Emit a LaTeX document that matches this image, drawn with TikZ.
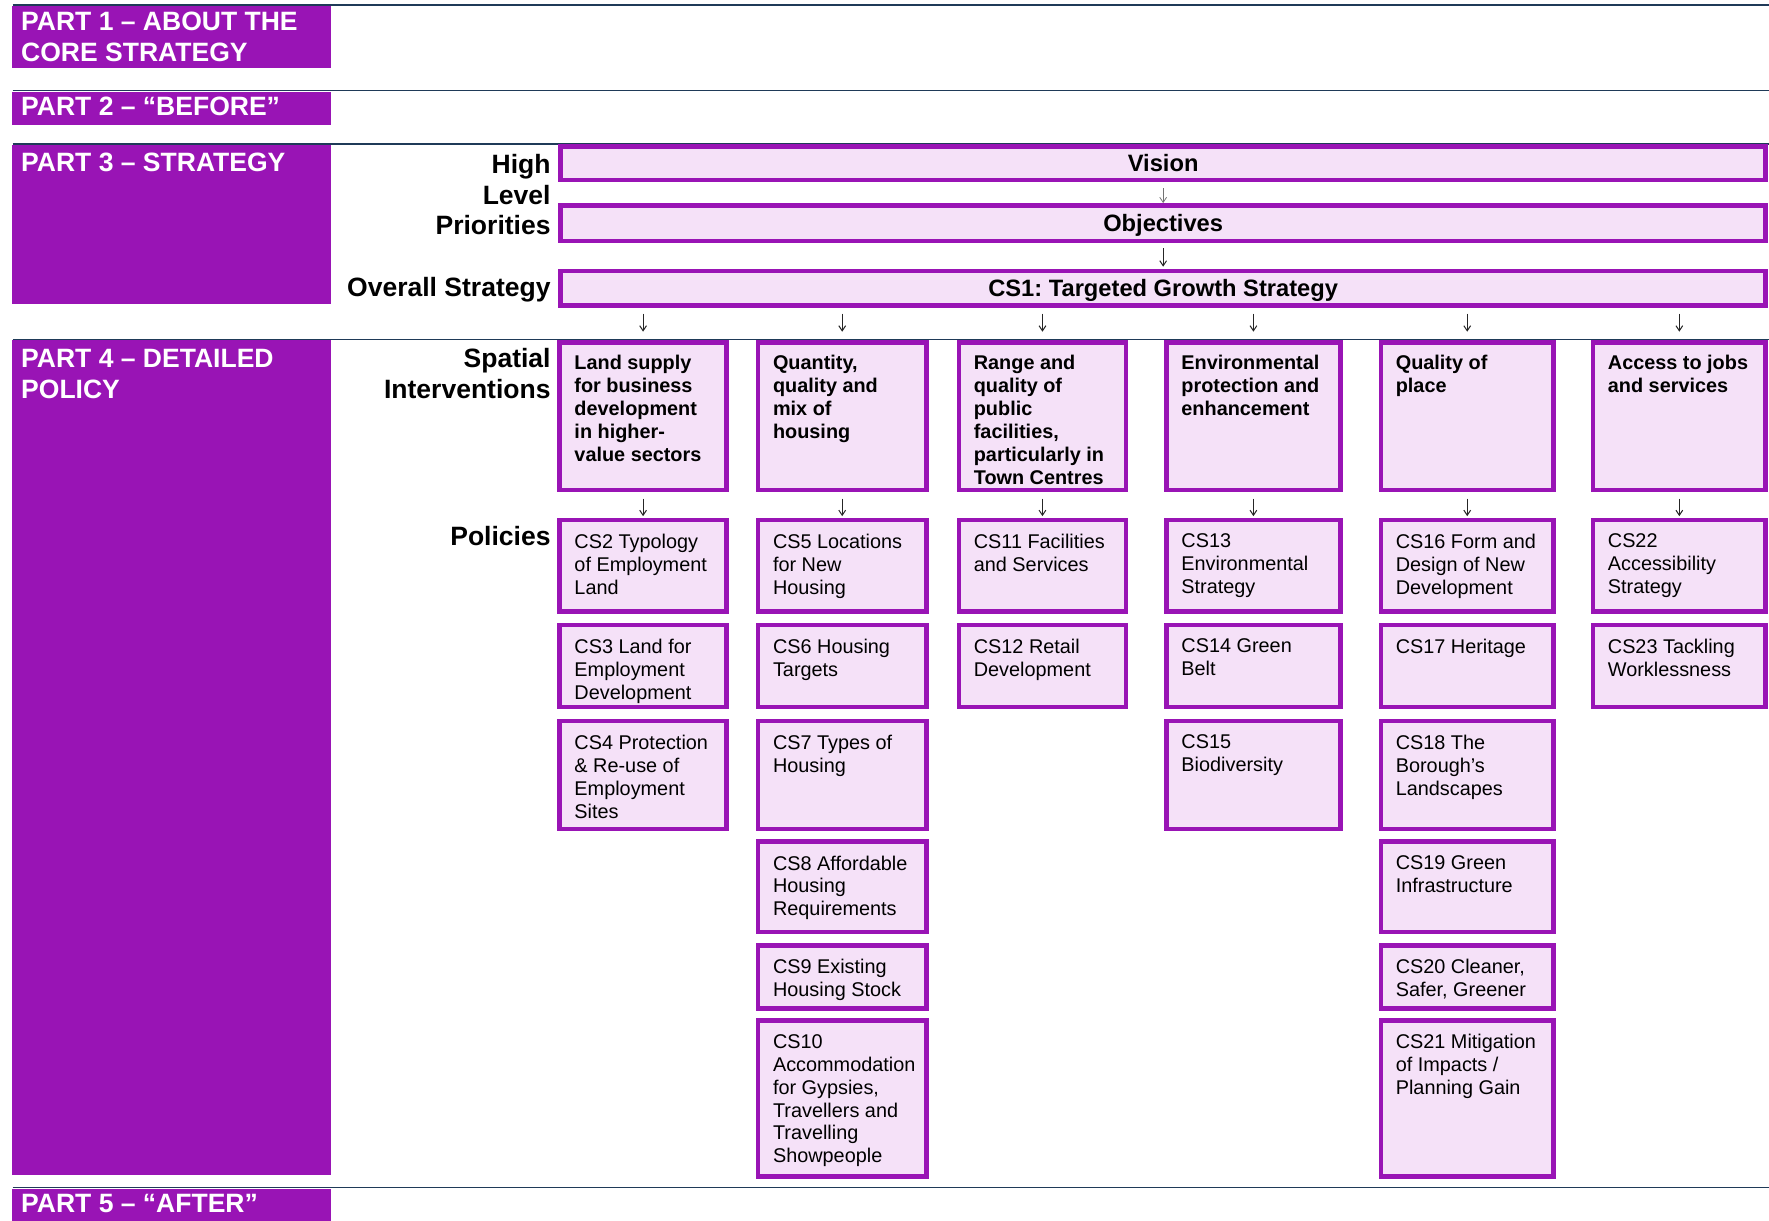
\documentclass[tikz,border=0pt]{standalone}
\usepackage{fontspec}
\setmainfont{Liberation Sans}
\frenchspacing
\usetikzlibrary{arrows.meta}
\definecolor{pur}{RGB}{153,20,181}
\definecolor{pinkf}{RGB}{245,225,248}
\definecolor{navy}{RGB}{31,58,88}
\tikzset{
  pbox/.style={rectangle, draw=pur, fill=pinkf, line width=4pt, inner sep=0pt, outer sep=2pt},
  partbox/.style={rectangle, fill=pur, draw=none, inner sep=0pt, outer sep=0pt},
  ptitle/.style={text=white, inner sep=0pt, align=left, font=\fontsize{23.5}{27.5}\selectfont\bfseries},
  ptext/.style={inner sep=0pt, align=left, font=\fontsize{17.6}{20.3}\selectfont},
  stext/.style={inner sep=0pt, align=left, font=\fontsize{17.6}{20.4}\selectfont\bfseries},
  wtext/.style={font=\fontsize{21}{25}\selectfont\bfseries, text height=15.04pt, text depth=0pt},
  lbl/.style={inner sep=0pt, align=right, font=\fontsize{23.5}{27.3}\selectfont\bfseries},
  sepline/.style={draw=navy, line width=1.3pt},
  arr/.style={-{Straight Barb[length=4.5pt,width=6pt]}, line width=0.9pt, draw=black!85},
}
% policy box: name, x1, y1, x2, y2, text
\newcommand\polbox[6]{%
  \node[pbox, minimum width={#4-#2-4}, minimum height={#5-#3-4}] (#1) at ({(#2+#4)/2},{(#3+#5)/2}) {};
  \node[ptext, anchor=north west] (#1t) at ([shift={(15,14.2)}]#1.north west) {#6};}
% spatial box
\newcommand\spbox[6]{%
  \node[pbox, minimum width={#4-#2-4}, minimum height={#5-#3-4}] (#1) at ({(#2+#4)/2},{(#3+#5)/2}) {};
  \node[stext, anchor=north west] (#1t) at ([shift={(15,13.2)}]#1.north west) {#6};}
% part box
\newcommand\partbox[5]{%
  \node[partbox, minimum width={#4-#2}, minimum height={#5-#3}] (#1) at ({(#2+#4)/2},{(#3+#5)/2}) {};}
\begin{document}
\begin{tikzpicture}[x=1pt,y=-1pt]
\useasboundingbox (0,0) rectangle (1568,1082);

% separator lines
\coordinate (l1a) at (11.2,4.4);    \coordinate (l1b) at (1568,4.4);
\coordinate (l2a) at (11.2,80.4);   \coordinate (l2b) at (1568,80.4);
\coordinate (l3a) at (11.2,127.6);  \coordinate (l3b) at (1568,127.6);
\coordinate (l4a) at (11.2,300.8);  \coordinate (l4b) at (1568,300.8);
\coordinate (l5a) at (11.2,1052.5); \coordinate (l5b) at (1568,1052.5);
\draw[sepline] (l1a) -- (l1b);
\draw[sepline] (l2a) -- (l2b);
\draw[sepline] (l3a) -- (l3b);
\draw[sepline] (l4a) -- (l4b);
\draw[sepline] (l5a) -- (l5b);

% part boxes
\partbox{p1}{10.2}{5.3}{293.4}{60}
\partbox{p2}{10.2}{81.5}{293.4}{110.8}
\partbox{p3}{10.2}{128.4}{293.4}{269.7}
\partbox{p4}{10.2}{301.8}{293.4}{1041.5}
\partbox{p5}{10.2}{1053.6}{293.4}{1082}
\node[ptitle, anchor=north west] (p1t) at (18.6,10.3) {PART 1 – ABOUT THE\\CORE STRATEGY};
\node[ptitle, anchor=base west] (p2t) at (18.6,102.5) {PART 2 – “BEFORE”};
\node[ptitle, anchor=base west] (p3t) at (18.6,152.2) {PART 3 – STRATEGY};
\node[ptitle, anchor=north west] (p4t) at (18.6,309.6) {PART 4 – DETAILED\\POLICY};
\node[ptitle, anchor=base west] (p5t) at (18.6,1075) {PART 5 – “AFTER”};

% left labels
\node[lbl, anchor=north east] (hlp) at (488.2,136.3) {High\\Level\\Priorities};
\node[lbl, anchor=base east] (ovs) at (488.2,263) {Overall Strategy};
\node[lbl, anchor=north east] (spi) at (488.2,308.8) {Spatial\\Interventions};
\node[lbl, anchor=base east] (pol) at (488.2,483.4) {Policies};

% wide boxes
\node[pbox, wtext, minimum width={1567-495-4}, minimum height={161.5-128-4}] (vision) at ({(495+1567)/2},{(128+161.5)/2}) {Vision};
\node[pbox, wtext, minimum width={1567-495-4}, minimum height={215.5-180-4}] (obj) at ({(495+1567)/2},{(180+215.5)/2}) {Objectives};
\node[pbox, wtext, minimum width={1567-495-4}, minimum height={273-238-4}] (cs1) at ({(495+1567)/2},{(238+273)/2}) {CS1: Targeted Growth Strategy};

% spatial interventions
\spbox{sp1}{494}{301.5}{646}{436.5}{Land supply\\for business\\development\\in higher-\\value sectors}
\spbox{sp2}{670}{301.5}{823}{436.5}{Quantity,\\quality and\\mix of\\housing}
\spbox{sp3}{848}{301.5}{1000}{436.5}{Range and\\quality of\\public\\facilities,\\particularly in\\Town Centres}
\spbox{sp4}{1032}{301.5}{1190}{436.5}{Environmental\\protection and\\enhancement}
\spbox{sp5}{1222}{301.5}{1379}{436.5}{Quality of\\place}
\spbox{sp6}{1410}{301.5}{1567}{436.5}{Access to jobs\\and services}

% policies column 1
\polbox{cs2}{494}{459}{646}{544}{CS2 Typology\\of Employment\\Land}
\polbox{cs3}{494}{552}{646}{628.5}{CS3 Land for\\Employment\\Development}
\polbox{cs4}{494}{637}{646}{737}{CS4 Protection\\\& Re-use of\\Employment\\Sites}
% column 2
\polbox{cs5}{670}{459}{823}{544}{CS5 Locations\\for New\\Housing}
\polbox{cs6}{670}{552}{823}{628.5}{CS6 Housing\\Targets}
\polbox{cs7}{670}{637}{823}{737}{CS7 Types of\\Housing}
\polbox{cs8}{670}{744}{823}{828}{CS8 Affordable\\Housing\\Requirements}
\polbox{cs9}{670}{836}{823}{896}{CS9 Existing\\Housing Stock}
\polbox{cs10}{670}{902.5}{823}{1045}{CS10\\Accommodation\\for Gypsies,\\Travellers and\\Travelling\\Showpeople}
% column 3
\polbox{cs11}{848}{459}{1000}{544}{CS11 Facilities\\and Services}
\polbox{cs12}{848}{552}{1000}{628.5}{CS12 Retail\\Development}
% column 4
\polbox{cs13}{1032}{459}{1190}{544}{CS13\\Environmental\\Strategy}
\polbox{cs14}{1032}{552}{1190}{628.5}{CS14 Green\\Belt}
\polbox{cs15}{1032}{637}{1190}{737}{CS15\\Biodiversity}
% column 5
\polbox{cs16}{1222}{459}{1379}{544}{CS16 Form and\\Design of New\\Development}
\polbox{cs17}{1222}{552}{1379}{628.5}{CS17 Heritage}
\polbox{cs18}{1222}{637}{1379}{737}{CS18 The\\Borough’s\\Landscapes}
\polbox{cs19}{1222}{744}{1379}{828}{CS19 Green\\Infrastructure}
\polbox{cs20}{1222}{836}{1379}{896}{CS20 Cleaner,\\Safer, Greener}
\polbox{cs21}{1222}{902.5}{1379}{1045}{CS21 Mitigation\\of Impacts /\\Planning Gain}
% column 6
\polbox{cs22}{1410}{459}{1567}{544}{CS22\\Accessibility\\Strategy}
\polbox{cs23}{1410}{552}{1567}{628.5}{CS23 Tackling\\Worklessness}

% arrows
\draw[arr, draw=black!55, line width=0.7pt, shorten <=5.5pt] (vision.south) -- (obj.north);
\draw[arr, shorten <=4.5pt, shorten >=1.6pt] (obj.south) -- (cs1.north);
\foreach \s in {sp1,sp2,sp3,sp4,sp5,sp6}{
  \draw[arr, shorten <=5pt, shorten >=7.5pt] (cs1.south -| \s.north) -- (\s.north);
}
\draw[arr, shorten <=5.5pt, shorten >=1.5pt] (sp1.south) -- (cs2.north);
\draw[arr, shorten <=5.5pt, shorten >=1.5pt] (sp2.south) -- (cs5.north);
\draw[arr, shorten <=5.5pt, shorten >=1.5pt] (sp3.south) -- (cs11.north);
\draw[arr, shorten <=5.5pt, shorten >=1.5pt] (sp4.south) -- (cs13.north);
\draw[arr, shorten <=5.5pt, shorten >=1.5pt] (sp5.south) -- (cs16.north);
\draw[arr, shorten <=5.5pt, shorten >=1.5pt] (sp6.south) -- (cs22.north);
\end{tikzpicture}
\end{document}
